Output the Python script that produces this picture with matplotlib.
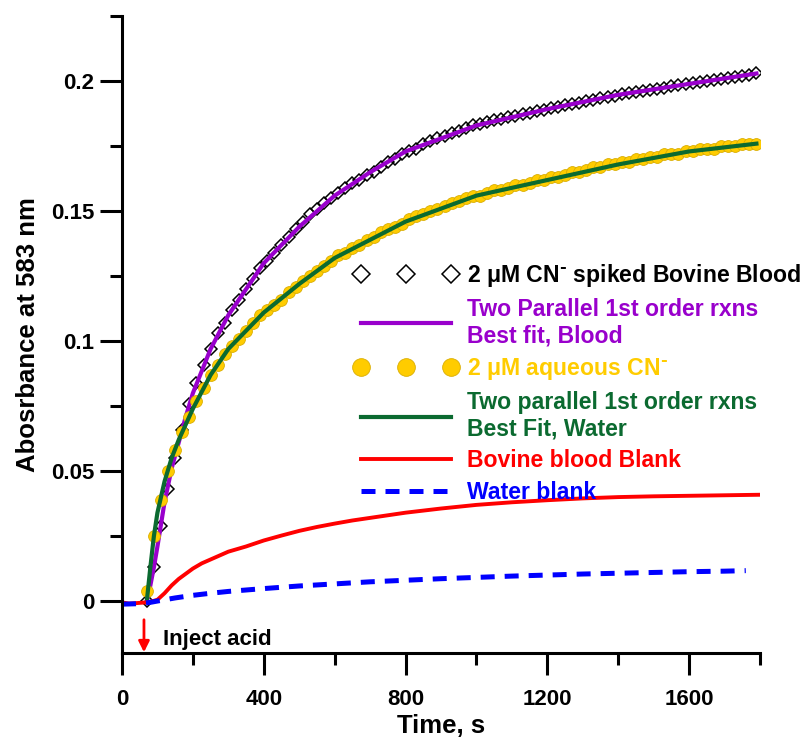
import numpy as np
import matplotlib
matplotlib.use('Agg')
import matplotlib.pyplot as plt

plt.rcParams['font.family'] = ['Liberation Sans', 'DejaVu Sans']
plt.rcParams['font.weight'] = 'bold'
plt.rcParams['mathtext.default'] = 'regular'

# measured points (time, s) - both spiked samples
t_data = [70, 90, 110, 130, 150, 170, 190, 210, 230, 250, 270, 290, 310, 330, 350,
          370, 390, 410, 430, 450, 470, 490, 510, 530, 550, 570, 590, 610, 630, 650,
          670, 690, 710, 730, 750, 770, 790, 810, 830, 850, 870, 890, 910, 930, 950,
          970, 990, 1010, 1030, 1050, 1070, 1090, 1110, 1130, 1150, 1170, 1190, 1210,
          1230, 1250, 1270, 1290, 1310, 1330, 1350, 1370, 1390, 1410, 1430, 1450, 1470,
          1490, 1510, 1530, 1550, 1570, 1590, 1610, 1630, 1650, 1670, 1690, 1710, 1730,
          1750, 1770, 1790]

blood_abs = [0.000, 0.013, 0.029, 0.043, 0.055, 0.066, 0.076, 0.084, 0.091, 0.097,
             0.103, 0.107, 0.112, 0.116, 0.120, 0.124, 0.128, 0.131, 0.134, 0.137,
             0.140, 0.143, 0.146, 0.149, 0.151, 0.153, 0.155, 0.157, 0.159, 0.161,
             0.162, 0.164, 0.165, 0.167, 0.169, 0.170, 0.172, 0.173, 0.174, 0.176,
             0.177, 0.178, 0.179, 0.180, 0.181, 0.182, 0.183, 0.1837, 0.1843, 0.1850,
             0.1856, 0.1862, 0.1868, 0.1873, 0.1879, 0.1884, 0.1890, 0.1896, 0.1902,
             0.1907, 0.1913, 0.1918, 0.1924, 0.1929, 0.1935, 0.1940, 0.1945, 0.1950,
             0.1955, 0.1960, 0.1964, 0.1968, 0.1972, 0.1976, 0.1980, 0.1984, 0.1988,
             0.1993, 0.1997, 0.2001, 0.2005, 0.2009, 0.2013, 0.2017, 0.2021, 0.2025,
             0.2030]

water_abs = [0.004, 0.025, 0.039, 0.050, 0.058, 0.065, 0.071, 0.077, 0.082, 0.087,
             0.091, 0.095, 0.098, 0.101, 0.104, 0.107, 0.110, 0.112, 0.114, 0.116,
             0.119, 0.121, 0.123, 0.125, 0.127, 0.129, 0.131, 0.133, 0.134, 0.136,
             0.137, 0.139, 0.140, 0.142, 0.143, 0.144, 0.145, 0.147, 0.148, 0.149,
             0.150, 0.151, 0.152, 0.153, 0.154, 0.155, 0.156, 0.156, 0.157, 0.158,
             0.158, 0.159, 0.160, 0.160, 0.161, 0.162, 0.162, 0.163, 0.163, 0.164,
             0.165, 0.165, 0.166, 0.167, 0.167, 0.168, 0.168, 0.169, 0.169, 0.170,
             0.170, 0.171, 0.171, 0.172, 0.172, 0.172, 0.173, 0.173, 0.174, 0.174,
             0.174, 0.175, 0.175, 0.175, 0.176, 0.176, 0.176]

# best fit curves (two parallel 1st order reactions)
t_fit = [70, 80, 90, 100, 120, 140, 160, 180, 200, 250, 300, 350, 400, 500, 600,
         700, 800, 900, 1000, 1200, 1400, 1600, 1790]
blood_fit = [0.0, 0.006, 0.013, 0.021, 0.038, 0.051, 0.061, 0.071, 0.080, 0.097,
             0.110, 0.120, 0.130, 0.144, 0.156, 0.165, 0.173, 0.178, 0.183, 0.1893,
             0.1948, 0.1990, 0.2030]
water_fit = [0.0, 0.013, 0.025, 0.034, 0.046, 0.055, 0.062, 0.068, 0.074, 0.087,
             0.097, 0.104, 0.111, 0.122, 0.132, 0.139, 0.146, 0.151, 0.156, 0.162,
             0.168, 0.173, 0.176]

# blanks
t_red = [0, 20, 40, 60, 80, 100, 120, 140, 160, 180, 200, 225, 250, 275, 300, 350,
         400, 450, 500, 550, 600, 650, 700, 750, 800, 850, 900, 950, 1000, 1100,
         1200, 1300, 1400, 1500, 1600, 1700, 1800]
blood_blank = [-0.0005, -0.001, -0.0008, -0.0006, -0.0003, 0.0005, 0.003, 0.006,
               0.0085, 0.0105, 0.0125, 0.0145, 0.016, 0.0175, 0.019, 0.021, 0.0233,
               0.0252, 0.027, 0.0285, 0.0298, 0.031, 0.032, 0.033, 0.034, 0.0348,
               0.0356, 0.0363, 0.037, 0.038, 0.0388, 0.0395, 0.040, 0.0403, 0.0405,
               0.0407, 0.0409]
t_blue = [0, 50, 80, 100, 150, 200, 250, 300, 400, 500, 600, 700, 800, 900, 1000,
          1100, 1200, 1300, 1400, 1500, 1600, 1700, 1760]
water_blank = [-0.0012, -0.001, -0.0005, 0.0, 0.0012, 0.0022, 0.003, 0.0037, 0.0048,
               0.0058, 0.0066, 0.0074, 0.008, 0.0086, 0.0091, 0.0096, 0.0100, 0.0104,
               0.0107, 0.0110, 0.0113, 0.0115, 0.0117]

purple = '#9900cc'
gold = '#ffcc00'
green = '#0b6a30'

fig = plt.figure(figsize=(8.09, 7.43), dpi=100)
ax = fig.add_axes([0.1508, 0.1211, 0.7886, 0.8573])

ax.plot(t_data, blood_abs, linestyle='none', marker='D', markersize=6.2,
        markerfacecolor='none', markeredgecolor='black', markeredgewidth=1.1,
        label='2 \u03bcM CN$^{\\text{-}}$ spiked Bovine Blood')
ax.plot(t_fit, blood_fit, color=purple, lw=3,
        label='Two Parallel 1st order rxns\nBest fit, Blood')
ax.plot(t_data, water_abs, linestyle='none', marker='o', markersize=8.5,
        markerfacecolor=gold, markeredgecolor='#d9ad00', markeredgewidth=0.6,
        label='2 \u03bcM aqueous CN$^{\\text{-}}$')
ax.plot(t_fit, water_fit, color=green, lw=3,
        label='Two parallel 1st order rxns\nBest Fit, Water')
ax.plot(t_red, blood_blank, color='red', lw=2.8, label='Bovine blood Blank')
ax.plot(t_blue, water_blank, color='blue', lw=3.6, dashes=(2.8, 2.0),
        label='Water blank')

ax.annotate('', xy=(62, -0.0197), xytext=(62, -0.0072),
            arrowprops=dict(arrowstyle='-|>', color='red', lw=2, mutation_scale=16,
                            shrinkA=0, shrinkB=0))
ax.text(116, -0.0169, 'Inject acid', fontsize=16, va='baseline', ha='left')

ax.set_xlim(0, 1800)
ax.set_ylim(-0.02, 0.2251)
ax.set_xticks([0, 400, 800, 1200, 1600])
ax.set_xticks([200, 600, 1000, 1400, 1800], minor=True)
ax.set_yticks([0, 0.05, 0.1, 0.15, 0.2])
ax.set_yticklabels(['0', '0.05', '0.1', '0.15', '0.2'])
ax.set_yticks([0.025, 0.075, 0.125, 0.175, 0.225], minor=True)

for s in ['top', 'right']:
    ax.spines[s].set_visible(False)
for s in ['left', 'bottom']:
    ax.spines[s].set_linewidth(2.2)

ax.tick_params(axis='both', which='major', length=16, width=2.2, labelsize=16)
ax.tick_params(axis='both', which='minor', length=8.5, width=2.2)
ax.tick_params(axis='x', which='major', pad=10)
ax.tick_params(axis='y', which='major', pad=4)

ax.set_xlabel('Time, s', fontsize=18.5, fontweight='bold', labelpad=3)
ax.set_ylabel('Abosrbance at 583 nm', fontsize=18.5, fontweight='bold', labelpad=8)

leg = ax.legend(loc='upper left', bbox_to_anchor=(354 / 809, 1 - 262 / 743),
                bbox_transform=fig.transFigure, frameon=False, fontsize=16.6,
                numpoints=3, markerscale=1.5, handlelength=4.5, handletextpad=0.42,
                labelspacing=0.38, borderpad=0, borderaxespad=0,
                labelcolor=['black', purple, gold, green, 'red', 'blue'])

fig.savefig('out.png', dpi=100)
